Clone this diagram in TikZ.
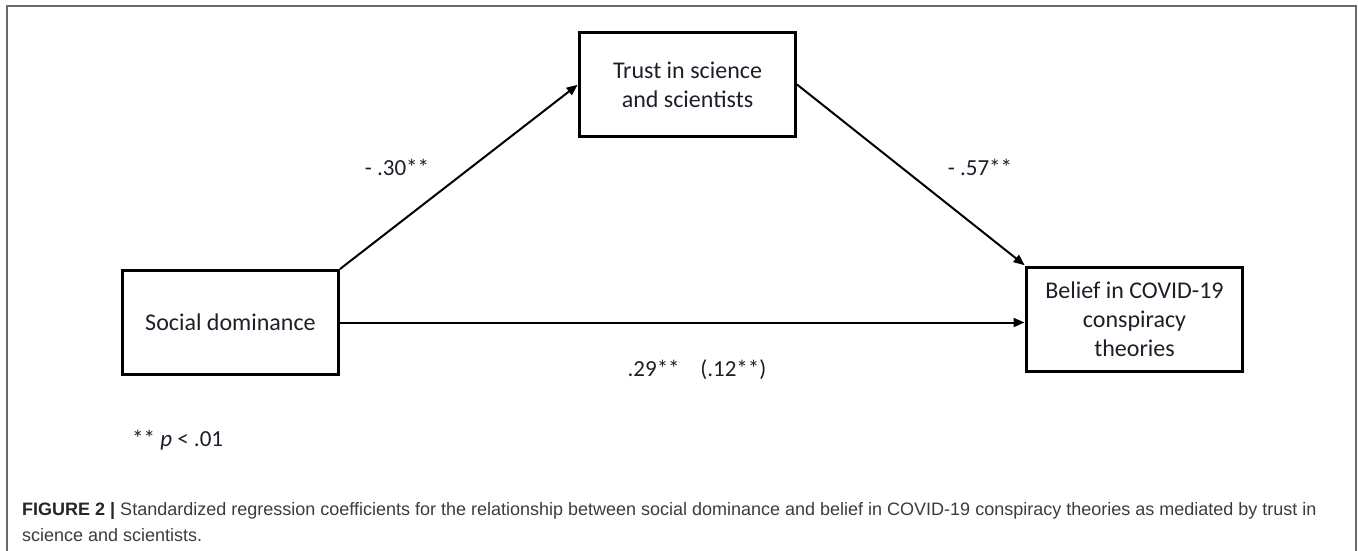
\documentclass[tikz,border=0pt]{standalone}
\usepackage{fontspec}
\setmainfont{Carlito}
\newfontfamily\captionfont{Liberation Sans}
\usepackage{xcolor}
\usetikzlibrary{arrows.meta,positioning,calc}
\definecolor{ink}{HTML}{1E1E28}
\definecolor{framegray}{HTML}{6A6A6A}
\definecolor{capgray}{HTML}{3C3C3C}
\tikzset{
  >={Triangle[length=11pt,width=9pt]},
  varbox/.style={draw=black, line width=3pt, minimum width=216pt, minimum height=104pt,
    align=center, inner sep=0pt, text=ink, font=\fontsize{24}{29}\selectfont},
  path/.style={->, line width=2pt, color=black, shorten >=0.5pt},
  coef/.style={text=ink, font=\fontsize{23}{27}\selectfont, inner sep=0pt},
  frame/.style={draw=framegray, line width=1.2pt},
  captext/.style={anchor=west, inner sep=0pt, text=capgray, font=\captionfont\fontsize{18}{22}\selectfont}
}

\begin{document}
\begin{tikzpicture}[x=1pt,y=-1pt]
  \useasboundingbox (0,0) rectangle (1358,550);
  \draw[frame] (7,560) -- (7,6) -- (1356,6) -- (1356,560);

  \node[varbox] (trust) at (687.5,84.5) {Trust in science\\and scientists};
  \node[varbox] (social) at (230.5,322.5) {Social dominance};
  \node[varbox] (belief) at (1134.5,319) {Belief in COVID-19\\conspiracy\\theories};

  \draw[path] (social.north east) -- (trust.west);
  \draw[path] (trust.east) -- (belief.north west);
  \draw[path] (social.east) -- (social.east -| belief.west);

  \node[coef] (a) at (397,167) {- .30**};
  \node[coef] (b) at (980,167) {- .57**};
  \node[coef] (c) at (697,370) {.29**\hspace{0.9em}(.12**)};
  \node[coef,anchor=west] (note) at (132,440) {**\ \textit{p} < .01};

  \node[captext] (cap1) at (22,511)
    {\textbf{\color{black!85}FIGURE 2 |} Standardized regression coefficients for the relationship between social dominance and belief in COVID-19 conspiracy theories as mediated by trust in};
  \node[captext] (cap2) at (22,535) {science and scientists.};
\end{tikzpicture}
\end{document}
